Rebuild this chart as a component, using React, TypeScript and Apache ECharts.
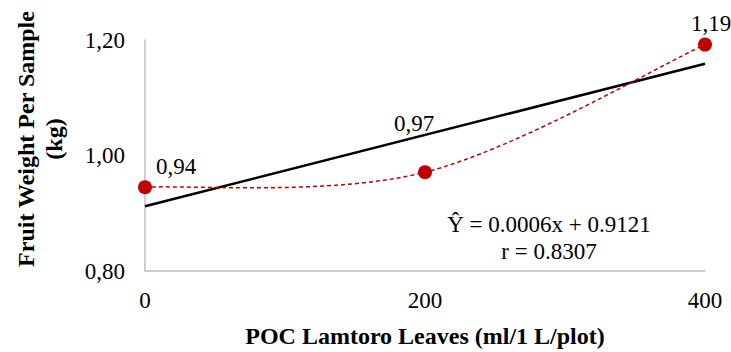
import React, { useEffect, useRef } from "react";
import * as echarts from "echarts";

const xValues = [0, 200, 400];
const yValues = [0.945, 0.971, 1.192];
const pointLabels = ["0,94", "0,97", "1,19"];
const trendX = [0, 400];
const trendY = [0.9121, 1.159];
const equationLines = ["Ŷ = 0.0006x + 0.9121", "r = 0.8307"];
const xTitle = "POC Lamtoro Leaves (ml/1 L/plot)";
const yTitleLines = ["Fruit Weight Per Sample", "(kg)"];

const FONT = "Times New Roman, Liberation Serif, serif";
const FS = 23;
const RED = "#c00000";
const labelOffsets = [
  [31, -21],
  [-11, -49],
  [6, -21],
];

export default function App() {
  const ref = useRef<HTMLDivElement>(null);
  useEffect(() => {
    if (!ref.current) return;
    const chart = echarts.init(ref.current, null, { renderer: "svg" });
    const points = xValues.map((x, i) => [x, yValues[i]]);
    chart.setOption({
      animation: false,
      backgroundColor: "#ffffff",
      grid: { left: 145, right: 26, top: 40, bottom: 81, outerBoundsMode: "none", containLabel: false },
      xAxis: {
        type: "value",
        min: 0,
        max: 400,
        interval: 200,
        name: xTitle,
        nameLocation: "middle",
        nameGap: 53,
        nameTextStyle: { fontFamily: FONT, fontSize: 24, fontWeight: "bold", color: "#000" },
        axisLine: { show: true, lineStyle: { color: "#bfbfbf", width: 1.5 } },
        axisTick: { show: false },
        splitLine: { show: false },
        axisLabel: { fontFamily: FONT, fontSize: FS, color: "#000", margin: 18 },
      },
      yAxis: {
        type: "value",
        min: 0.8,
        max: 1.2,
        interval: 0.2,
        axisLine: { show: true, lineStyle: { color: "#bfbfbf", width: 1.5 } },
        axisTick: { show: false },
        splitLine: { show: false },
        axisLabel: {
          fontFamily: FONT,
          fontSize: FS,
          color: "#000",
          margin: 20,
          formatter: (v: number) => v.toFixed(2).replace(".", ","),
        },
      },
      series: [
        {
          type: "line",
          data: trendX.map((x, i) => [x, trendY[i]]),
          showSymbol: false,
          lineStyle: { color: "#000", width: 2.5 },
          z: 2,
          silent: true,
        },
        {
          type: "custom",
          data: points,
          encode: { x: 0, y: 1 },
          z: 3,
          silent: true,
          renderItem: (params: any, api: any) => {
            if (params.dataIndex !== 0) return null;
            const p = points.map((pt) => api.coord(pt));
            const n = p.length;
            let d = `M${p[0][0]},${p[0][1]}`;
            for (let i = 0; i < n - 1; i++) {
              const p0 = p[Math.max(i - 1, 0)];
              const p1 = p[i];
              const p2 = p[i + 1];
              const p3 = p[Math.min(i + 2, n - 1)];
              const c1x = p1[0] + (p2[0] - p0[0]) / 6;
              const c1y = p1[1] + (p2[1] - p0[1]) / 6;
              const c2x = p2[0] - (p3[0] - p1[0]) / 6;
              const c2y = p2[1] - (p3[1] - p1[1]) / 6;
              d += ` C${c1x},${c1y} ${c2x},${c2y} ${p2[0]},${p2[1]}`;
            }
            return {
              type: "path",
              shape: { pathData: d },
              style: { fill: "none", stroke: RED, lineWidth: 1.5, lineDash: [4, 3] },
            };
          },
        },
        {
          type: "scatter",
          data: points.map((pt, i) => ({
            value: pt,
            label: {
              show: true,
              position: "inside",
              offset: labelOffsets[i],
              formatter: pointLabels[i],
              fontFamily: FONT,
              fontSize: FS,
              color: "#000",
            },
          })),
          symbol: "circle",
          symbolSize: 14,
          itemStyle: { color: RED, opacity: 1 },
          z: 4,
        },
      ],
      graphic: [
        {
          type: "text",
          x: 40,
          y: 139,
          rotation: Math.PI / 2,
          style: {
            text: yTitleLines.join("\n"),
            fontFamily: FONT,
            fontSize: 24,
            fontWeight: "bold",
            lineHeight: 28,
            fill: "#000",
            align: "center",
            verticalAlign: "middle",
          },
        },
        {
          type: "text",
          x: 549,
          y: 224,
          style: {
            text: equationLines[0],
            fontFamily: FONT,
            fontSize: FS,
            fill: "#000",
            align: "center",
            verticalAlign: "middle",
          },
        },
        {
          type: "text",
          x: 549,
          y: 251,
          style: {
            text: equationLines[1],
            fontFamily: FONT,
            fontSize: FS,
            fill: "#000",
            align: "center",
            verticalAlign: "middle",
          },
        },
      ],
    });
    return () => chart.dispose();
  }, []);
  return <div ref={ref} style={{ position: "fixed", left: 0, top: 0, width: 731, height: 352 }} />;
}
